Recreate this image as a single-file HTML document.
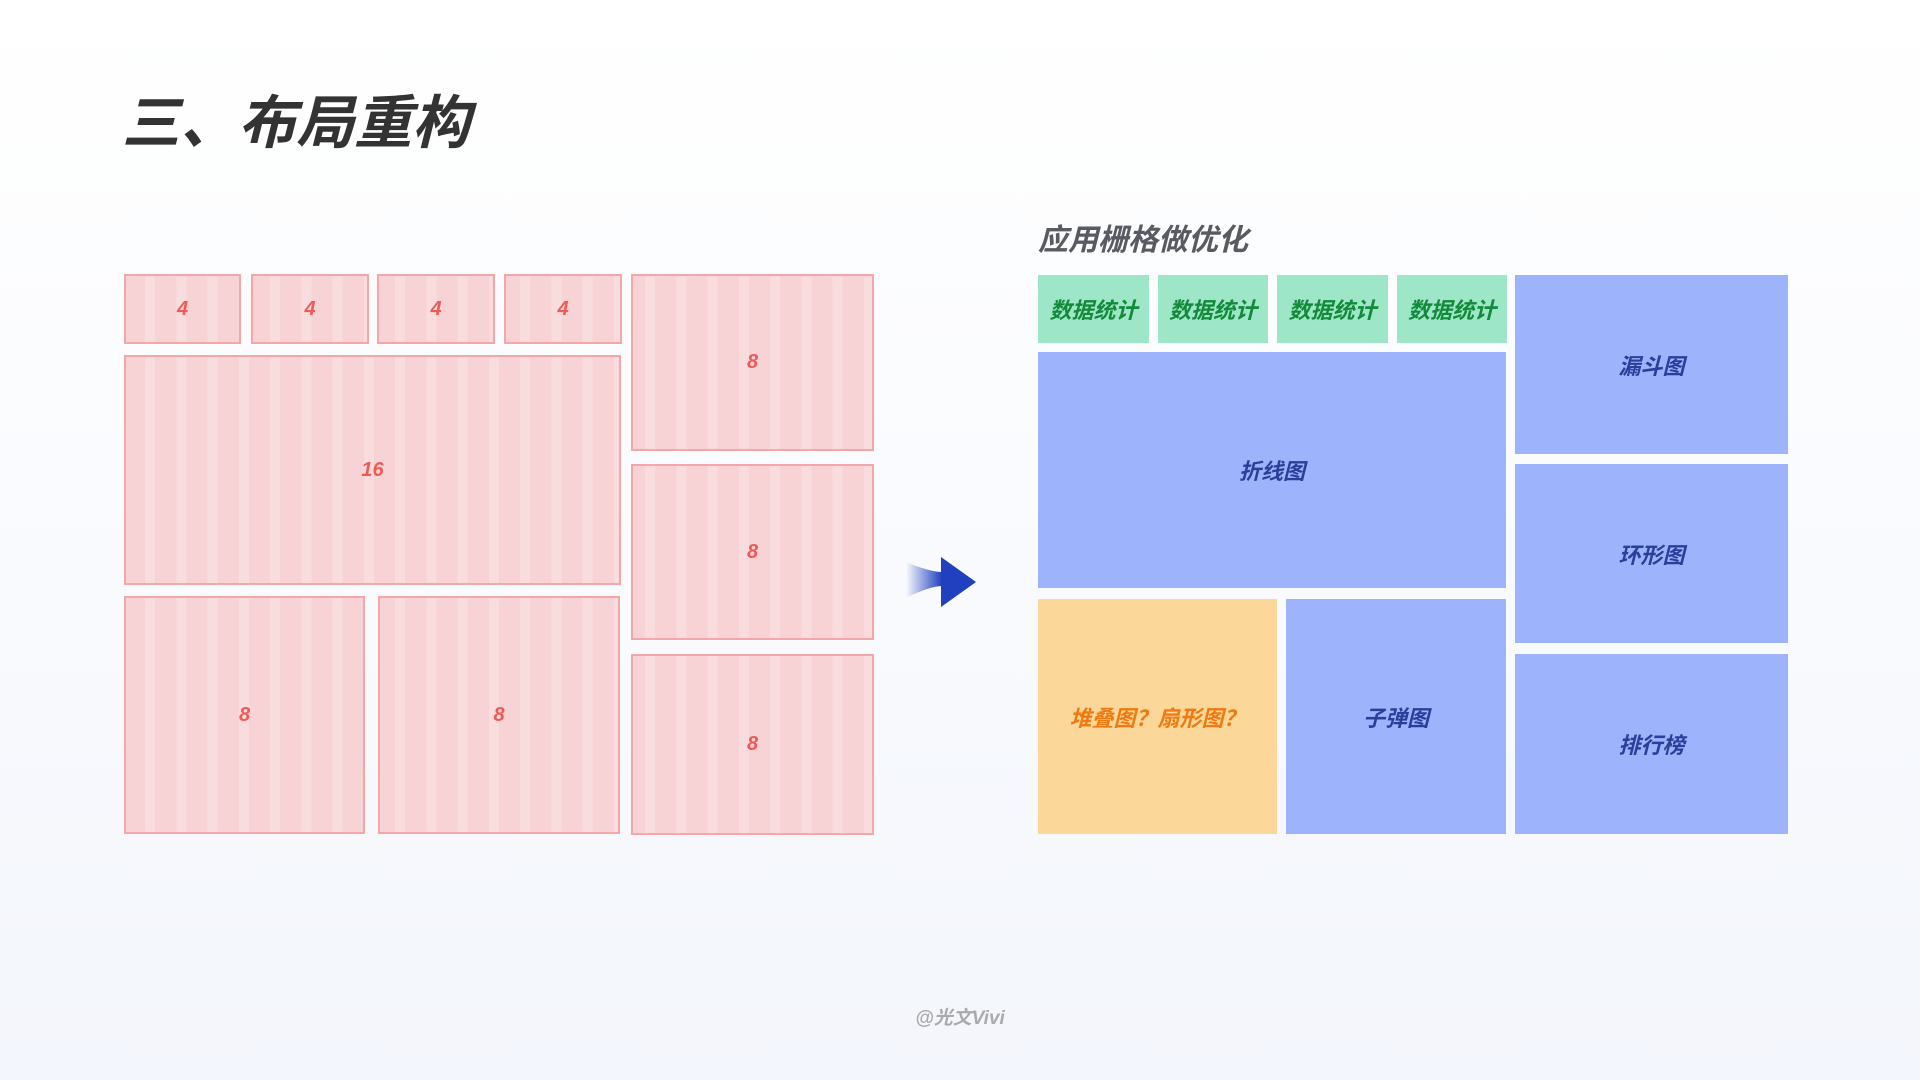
<!DOCTYPE html>
<html><head><meta charset="utf-8"><style>
html,body{margin:0;padding:0}
body{width:1920px;height:1080px;position:relative;overflow:hidden;background:linear-gradient(#ffffff,#f3f6fc);font-family:"Liberation Sans","Noto Sans CJK SC",sans-serif}
.b{position:absolute;box-sizing:border-box;display:flex;align-items:center;justify-content:center;font-style:italic;font-weight:bold}
.r{background-color:#f7d3d5;border:2px solid #f7a6a8;color:#ee5a55;font-size:20px;
background-image:repeating-linear-gradient(90deg,transparent 0px,transparent 21.25px,rgba(255,255,255,.22) 21.25px,rgba(255,255,255,.22) 31.25px);
background-attachment:fixed;background-position:124px 0}
.g{background:#9de6c8;color:#138a3a;font-size:22px}
.bl{background:#9db4fd;color:#2a3f9a;font-size:22px}
.y{background:#fcd79a;color:#f07a10;font-size:22px}
</style></head><body>
<div style="position:absolute;left:122px;top:76px;font-size:58px;font-weight:bold;font-style:italic;color:#333">三、布局重构</div>
<div class="b r" style="left:124px;top:274px;width:117px;height:70px">4</div>
<div class="b r" style="left:251px;top:274px;width:118px;height:70px">4</div>
<div class="b r" style="left:377px;top:274px;width:118px;height:70px">4</div>
<div class="b r" style="left:504px;top:274px;width:118px;height:70px">4</div>
<div class="b r" style="left:631px;top:274px;width:243px;height:177px">8</div>
<div class="b r" style="left:124px;top:355px;width:497px;height:230px">16</div>
<div class="b r" style="left:631px;top:464px;width:243px;height:176px">8</div>
<div class="b r" style="left:631px;top:654px;width:243px;height:181px">8</div>
<div class="b r" style="left:124px;top:596px;width:241px;height:238px">8</div>
<div class="b r" style="left:378px;top:596px;width:242px;height:238px">8</div>
<svg style="position:absolute;left:900px;top:550px" width="80" height="66"><defs><linearGradient id="a" x1="0" x2="1"><stop offset="0" stop-color="#2040c0" stop-opacity="0"/><stop offset="1" stop-color="#2040c0"/></linearGradient></defs>
<path d="M6 12 Q30 22 42 22 L42 36 Q30 36 6 48 Z" fill="url(#a)"/><path d="M41 7 L76 32 L41 57 Z" fill="#2040c0"/></svg>
<div style="position:absolute;left:1038px;top:215px;font-size:30px;font-weight:bold;font-style:italic;color:#5a5a62">应用栅格做优化</div>
<div class="b g" style="left:1038px;top:275px;width:111px;height:68px">数据统计</div>
<div class="b g" style="left:1158px;top:275px;width:110px;height:68px">数据统计</div>
<div class="b g" style="left:1277px;top:275px;width:111px;height:68px">数据统计</div>
<div class="b g" style="left:1397px;top:275px;width:110px;height:68px">数据统计</div>
<div class="b bl" style="left:1515px;top:275px;width:273px;height:179px">漏斗图</div>
<div class="b bl" style="left:1515px;top:464px;width:273px;height:179px">环形图</div>
<div class="b bl" style="left:1515px;top:654px;width:273px;height:180px">排行榜</div>
<div class="b bl" style="left:1038px;top:352px;width:468px;height:236px">折线图</div>
<div class="b y" style="left:1038px;top:599px;width:239px;height:235px">堆叠图？扇形图？</div>
<div class="b bl" style="left:1286px;top:599px;width:220px;height:235px">子弹图</div>
<div style="position:absolute;left:0;width:1920px;top:1003px;text-align:center;font-size:19px;font-weight:bold;font-style:italic;color:#aaa">@光文Vivi</div>
</body></html>
